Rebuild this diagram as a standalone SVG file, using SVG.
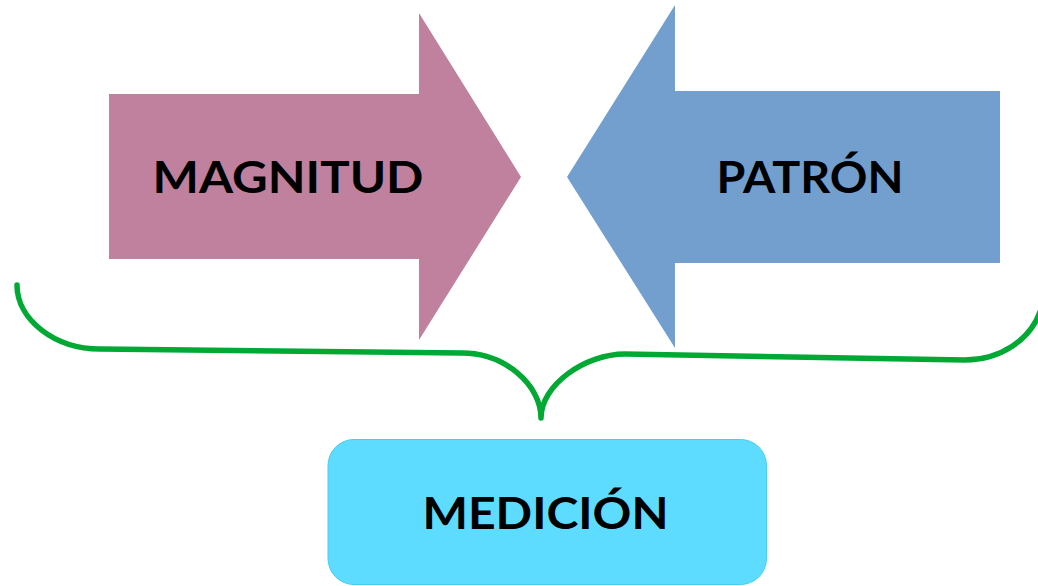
<svg xmlns="http://www.w3.org/2000/svg" width="1038" height="586" viewBox="0 0 1038 586">
  <style>
    .lbl { font-family: Lato, "Open Sans", "Liberation Sans", sans-serif; font-weight: bold; font-size: 43px; fill: #000; text-anchor: middle; }
    .brace { fill: none; stroke: #00A933; stroke-width: 5.5; stroke-linecap: round; stroke-linejoin: round; }
  </style>
  <rect width="1038" height="586" fill="#ffffff"/>
  <g id="magnitud">
    <polygon points="109,94 419,94 419,13 521,177 419,340 419,259 109,259" fill="#C0819E"/>
    <text class="lbl" x="288" y="193" textLength="271" lengthAdjust="spacingAndGlyphs">MAGNITUD</text>
  </g>
  <g id="patron">
    <polygon points="1000,91 675,91 675,5 567,177 675,348 675,263 1000,263" fill="#739FCF"/>
    <text class="lbl" x="810" y="193" textLength="187" lengthAdjust="spacingAndGlyphs">PATRÓN</text>
  </g>
  <g id="connectors">
    <path class="brace" d="M17,285 C17,320 55,349 100,349 L462,353 C505,353 541,385 541,418 C541,385 585,354 625,354 L965,360 C1000,360 1030,340 1040,312"/>
  </g>
  <g id="medicion">
    <rect x="328" y="439.5" width="438.5" height="145" rx="26" ry="26" fill="#5EDCFF" stroke="#45CDF2" stroke-width="1"/>
    <text class="lbl" x="545.5" y="529" textLength="246" lengthAdjust="spacingAndGlyphs">MEDICIÓN</text>
  </g>
</svg>
